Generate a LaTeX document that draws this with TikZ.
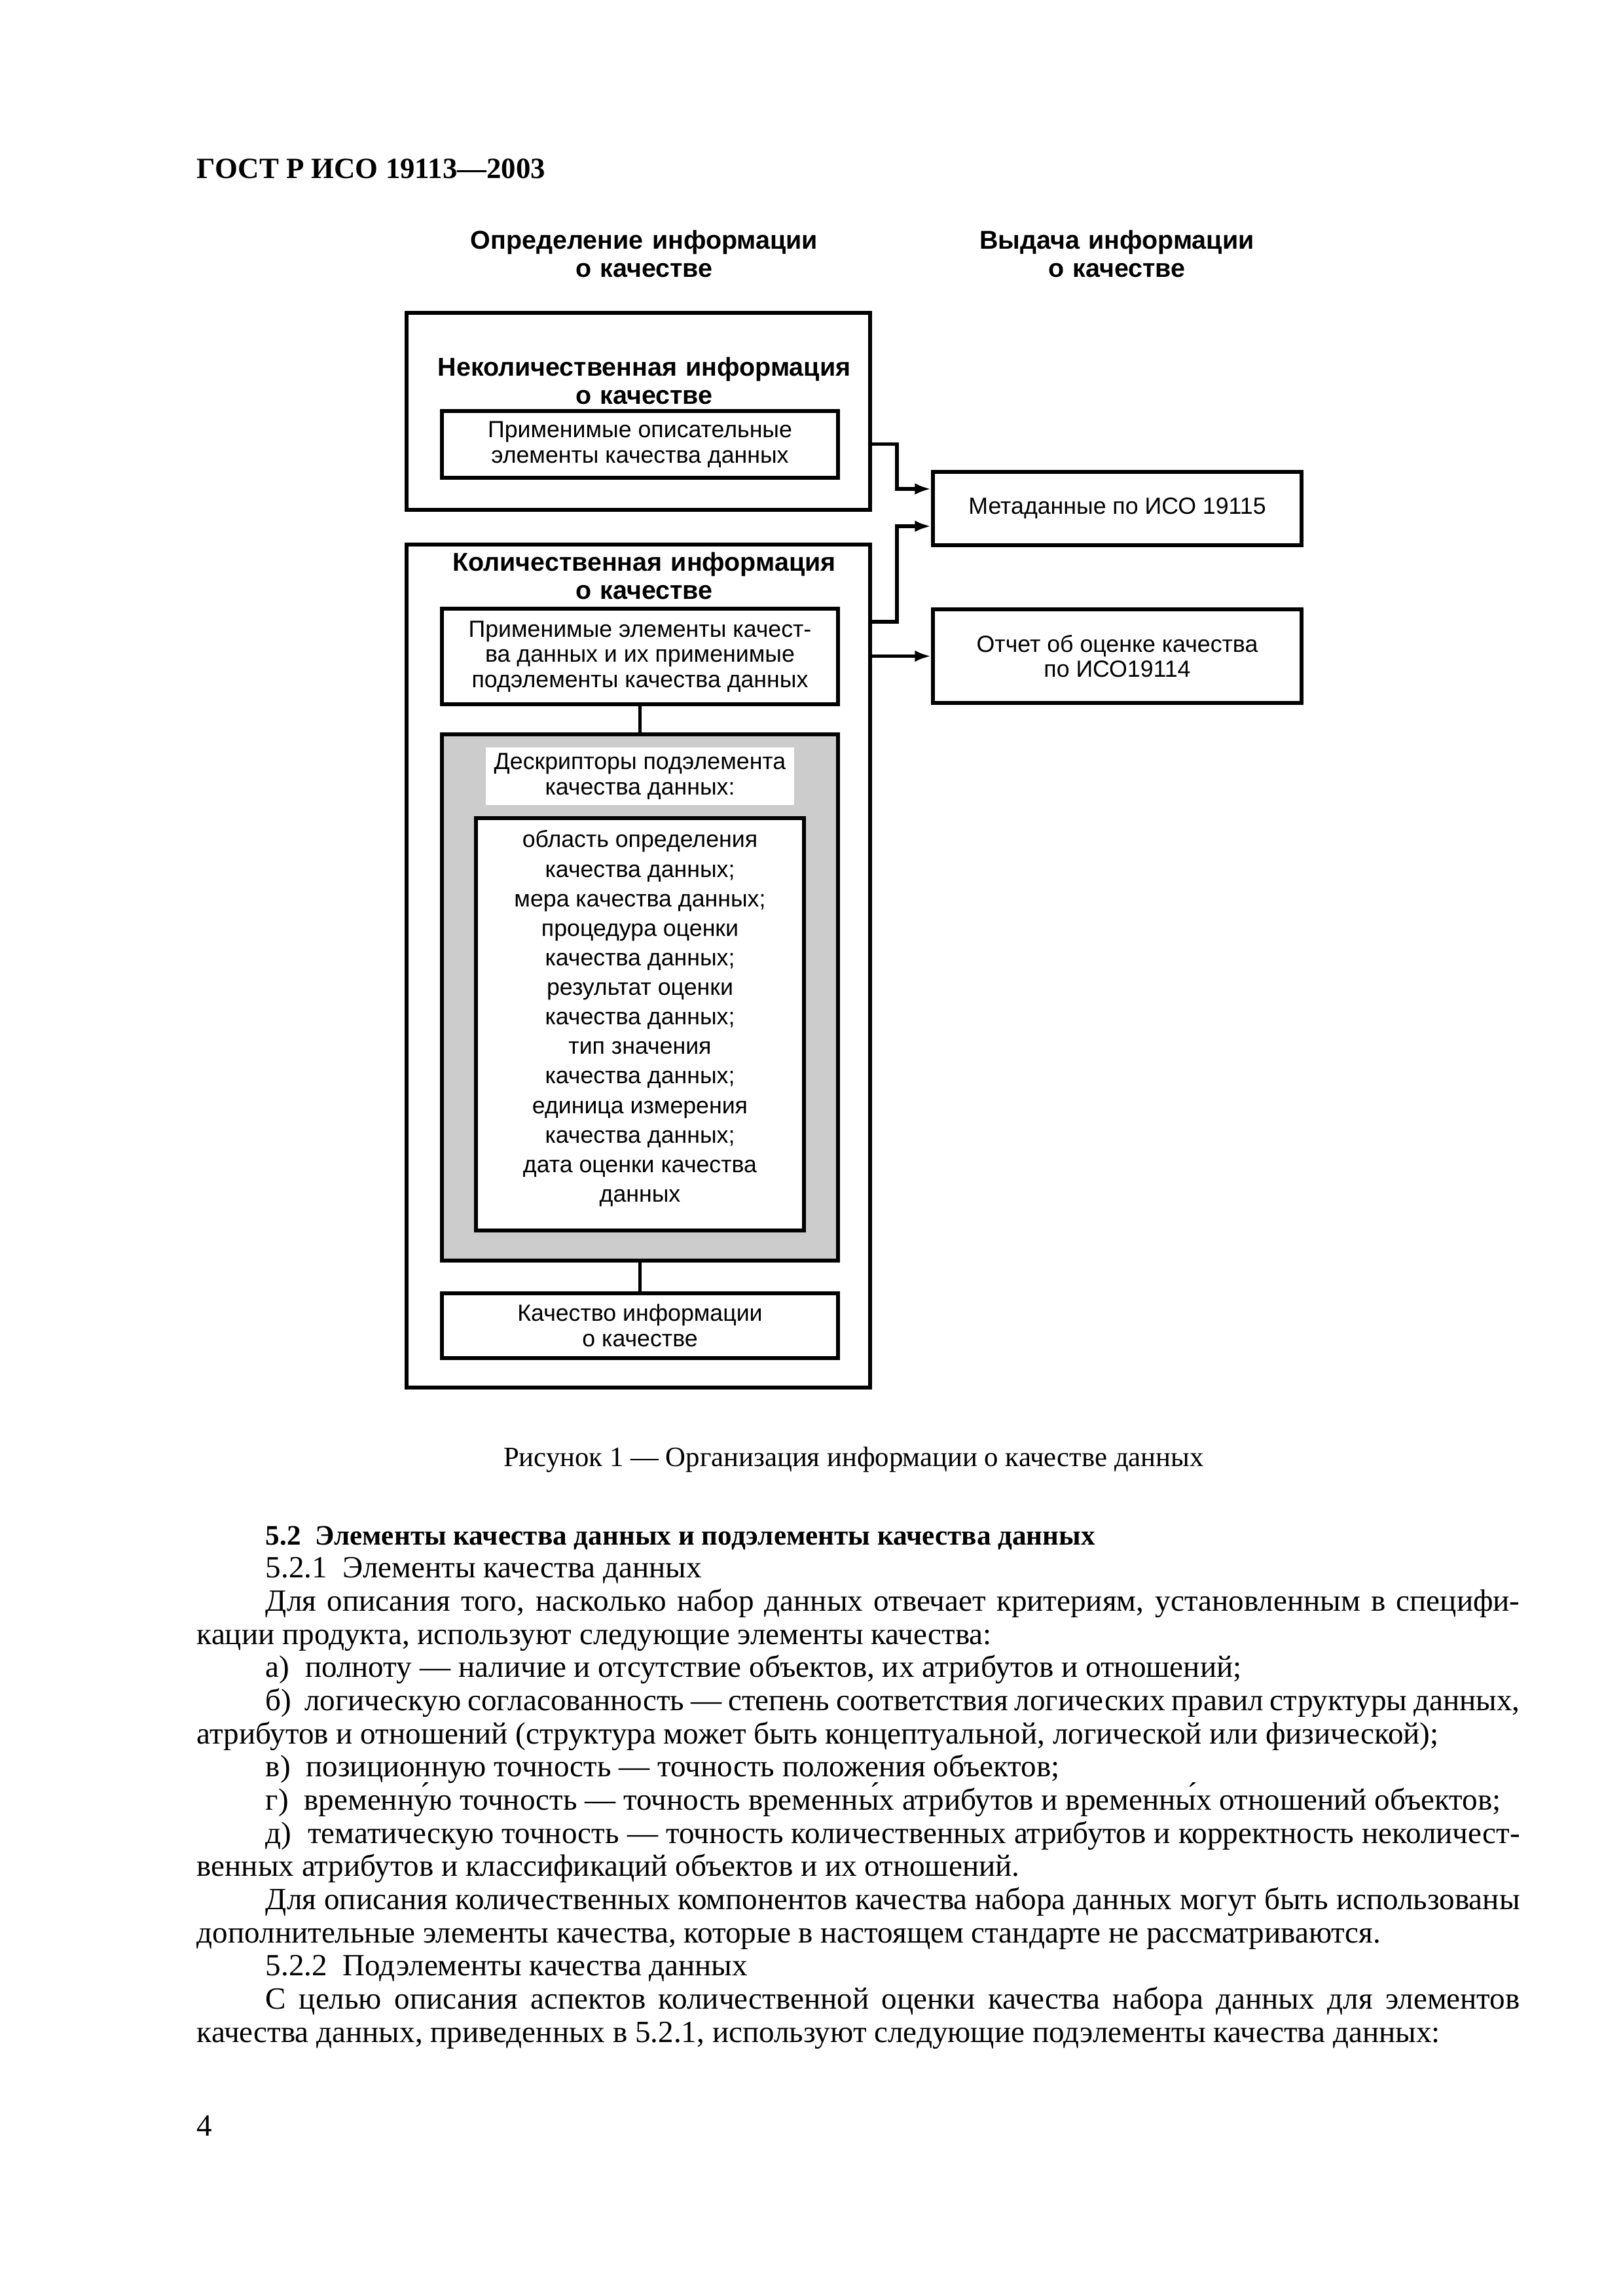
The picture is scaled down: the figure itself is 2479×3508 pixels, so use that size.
\documentclass[tikz,border=0pt]{standalone}
\usepackage{fontspec}
\setmainfont{Liberation Serif}
\setsansfont{Liberation Sans}
\usetikzlibrary{arrows.meta,calc,positioning}
\definecolor{descgray}{RGB}{204,204,204}
\newcommand{\pu}{0.084664mm}
\newcommand{\boxfont}{\sffamily\fontsize{8.6}{9.3}\selectfont}
\newcommand{\headfont}{\sffamily\bfseries\fontsize{9.5}{10.4}\selectfont}
\newcommand{\listfont}{\sffamily\fontsize{8.6}{10.87}\selectfont}
\newcommand{\bodyfont}{\rmfamily\fontsize{11.35}{12.21}\selectfont}
\newcommand{\ind}{\hspace*{8.9mm}}
\tikzstyle{boxframe}=[draw, line width=.5mm, inner sep=0pt, fill=white, align=center, font=\boxfont]
\tikzstyle{headtext}=[anchor=base, inner sep=0pt, text width=75mm, align=center, font=\headfont]
\tikzset{link/.style={-{Latex[length=2.1mm,width=1.5mm]}, line width=.5mm}}
\tikzset{joint/.style={line width=.5mm}}
\tikzset{x=\pu}
\tikzset{y=-\pu}

\begin{document}
\begin{tikzpicture}
  \useasboundingbox[fill=white] (0,0) rectangle (2479,3508);
  %% Page head
  \draw (300,272) node[anchor=base west,inner sep=0pt] (gost) {\rmfamily\bfseries\fontsize{10.8}{13}\selectfont ГОСТ Р ИСО 19113—2003};

  %% Column heads
  \draw (984,380) node[headtext] (defhead) {Определение информации\\о качестве};
  \draw (1706,380) node[headtext] (outhead) {Выдача информации\\о качестве};

  %% Non-quantitative part
  \draw (975,628.5) node[boxframe,minimum width=708*\pu,minimum height=301*\pu] (nonquant) {};
  \draw (984,574) node[headtext] (nonquanthead) {Неколичественная информация\\о качестве};
  \draw (977.5,679) node[boxframe,minimum width=605*\pu,minimum height=102*\pu] (descElems) {Применимые описательные\\элементы качества данных};

  %% Quantitative part
  \draw (975,1476) node[boxframe,minimum width=708*\pu,minimum height=1288*\pu] (quant) {};
  \draw (984,872) node[headtext] (quanthead) {Количественная информация\\о качестве};
  \draw (977.5,1003) node[boxframe,minimum width=605*\pu,minimum height=146*\pu] (quantElems) {Применимые элементы качест-\\ва данных и их применимые\\подэлементы качества данных};
  \draw (977.5,1524) node[boxframe,fill=descgray,minimum width=605*\pu,minimum height=804*\pu] (descriptors) {};
  \draw (977.5,1186) node[fill=white,inner sep=0pt,align=center,font=\boxfont,minimum width=471*\pu,minimum height=88*\pu] (descTitle) {Дескрипторы подэлемента\\качества данных:};
  \draw (977.5,1565) node[boxframe,font=\listfont,minimum width=501*\pu,minimum height=630*\pu] (descList) {область определения\\качества данных;\\мера качества данных;\\процедура оценки\\качества данных;\\результат оценки\\качества данных;\\тип значения\\качества данных;\\единица измерения\\качества данных;\\дата оценки качества\\данных\rule[-6pt]{0pt}{1pt}};
  \draw (977.5,2025.5) node[boxframe,minimum width=605*\pu,minimum height=99*\pu] (qualInfo) {Качество информации\\о качестве};

  %% Output side
  \draw (1706.5,777) node[boxframe,minimum width=563*\pu,minimum height=112*\pu] (meta) {Метаданные по ИСО 19115};
  \draw (1706.5,1002.5) node[boxframe,minimum width=563*\pu,minimum height=143*\pu] (report) {Отчет об оценке качества\\по ИСО19114};

  %% Connectors
  \draw[joint] (quantElems.south) -- (descriptors.north);
  \draw[joint] (descriptors.south) -- (qualInfo.north);
  \draw[link] ($(nonquant.east)+(0,50)$) -- ++(38,0) |- ($(meta.west)+(0,-30)$);
  \draw[link] ($(quant.north east)+(0,121)$) -- ++(38,0) |- ($(meta.west)+(0,27)$);
  \draw[link] (quant.east |- report.west) -- (report.west);

  %% Caption and text
  \draw (1304,2240) node[anchor=base,inner sep=0pt,font=\rmfamily\fontsize{10.3}{12}\selectfont] (caption) {Рисунок 1 — Организация информации о качестве данных};
  \draw (300,2360) node[anchor=base west,inner sep=0pt,text width=171.1mm,align=justify,font=\bodyfont] (body) {\hyphenpenalty=10000\exhyphenpenalty=10000\tolerance=10000\parindent=0pt\lineskiplimit=-\maxdimen
\ind{\bfseries\fontsize{10.4}{12.21}\selectfont 5.2~ Элементы качества данных и подэлементы качества данных}\par
\ind 5.2.1~ Элементы качества данных\par
\ind Для описания того, насколько набор данных отвечает критериям, установленным в специфи-\linebreak кации продукта, используют следующие элементы качества:\par
\ind а)~ полноту — наличие и отсутствие объектов, их атрибутов и отношений;\par
\ind б)~ логическую согласованность — степень соответствия логических правил структуры данных,\linebreak атрибутов и отношений (структура может быть концептуальной, логической или физической);\par
\ind в)~ позиционную точность — точность положения объектов;\par
\ind г)~ временну́ю точность — точность временны́х атрибутов и временны́х отношений объектов;\par
\ind д)~ тематическую точность — точность количественных атрибутов и корректность неколичест-\linebreak венных атрибутов и классификаций объектов и их отношений.\par
\ind Для описания количественных компонентов качества набора данных могут быть использованы\linebreak дополнительные элементы качества, которые в настоящем стандарте не рассматриваются.\par
\ind 5.2.2~ Подэлементы качества данных\par
\ind С целью описания аспектов количественной оценки качества набора данных для элементов\linebreak качества данных, приведенных в 5.2.1, используют следующие подэлементы качества данных:\par};
  \draw (300,3263) node[anchor=base west,inner sep=0pt,font=\bodyfont] (pagenum) {4};
\end{tikzpicture}
\end{document}
